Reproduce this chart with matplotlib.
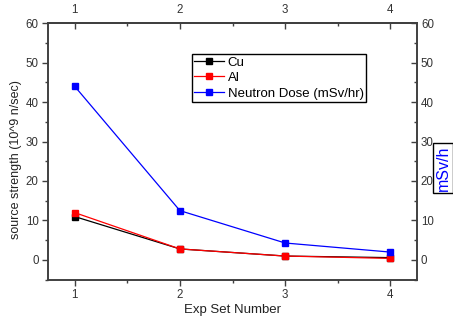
import matplotlib
matplotlib.use("Agg")
import matplotlib.pyplot as plt
from matplotlib.ticker import MultipleLocator

plt.rcParams['font.family'] = ['Liberation Sans', 'DejaVu Sans']

exp_set = [1, 2, 3, 4]
cu = [11.0, 2.8, 1.0, 0.6]
al = [12.0, 2.8, 1.0, 0.4]
neutron = [44.0, 12.5, 4.3, 2.0]
x_ticks = [1, 2, 3, 4]
y_ticks = [0, 10, 20, 30, 40, 50, 60]

spine_c = '#404040'
tick_c = '#333333'
tls = 8.3

fig = plt.figure(figsize=(4.53, 3.2), dpi=100)
ax = fig.add_axes([0.1066, 0.1258, 0.8134, 0.8023])
ax2 = ax.twinx()

ms = 4.3
lw = 0.9
l1, = ax.plot(exp_set, cu, color='black', marker='s', ms=ms, lw=lw, label='Cu', zorder=3)
l2, = ax.plot(exp_set, al, color='red', marker='s', ms=ms, lw=lw, label='Al', zorder=4)
l3, = ax2.plot(exp_set, neutron, color='blue', marker='s', ms=ms, lw=lw, label='Neutron Dose (mSv/hr)', zorder=3)

ax.set_xlim(0.75, 4.25)
ax.set_ylim(-5, 60)
ax2.set_ylim(-5, 60)

for a in (ax, ax2):
    for s in a.spines.values():
        s.set_color(spine_c)
        s.set_linewidth(1.2)

ax.set_xticks(x_ticks)
ax.xaxis.set_minor_locator(MultipleLocator(0.5))
ax.set_yticks(y_ticks)
ax.yaxis.set_minor_locator(MultipleLocator(5))
ax.tick_params(axis='both', which='major', direction='out', length=4, width=1.0,
               color=spine_c, labelcolor=tick_c, labelsize=tls, pad=3)
ax.tick_params(axis='both', which='minor', direction='out', length=2.5, width=1.0, color=spine_c)
ax.tick_params(axis='x', top=False, which='both')
ax.tick_params(axis='y', right=False, which='both')

ax2.set_yticks(y_ticks)
ax2.yaxis.set_minor_locator(MultipleLocator(5))
ax2.tick_params(axis='y', which='major', direction='in', length=4, width=1.0,
                color=spine_c, labelcolor=tick_c, labelsize=tls, pad=3)
ax2.tick_params(axis='y', which='minor', direction='in', length=2.5, width=1.0, color=spine_c)

sec = ax.secondary_xaxis('top')
sec.set_xticks(x_ticks)
sec.xaxis.set_minor_locator(MultipleLocator(0.5))
sec.tick_params(axis='x', which='major', direction='in', length=4, width=1.0,
                color=spine_c, labelcolor=tick_c, labelsize=tls, pad=5)
sec.tick_params(axis='x', which='minor', direction='in', length=2.5, width=1.0, color=spine_c)
sec.spines['top'].set_color(spine_c)
sec.spines['top'].set_linewidth(1.2)

ax.set_xlabel('Exp Set Number', fontsize=9.5, color='#222222')
ax.xaxis.set_label_coords(0.5, -0.096)
ax.set_ylabel('source strength (10^9 n/sec)', fontsize=9, color='#222222')
ax.yaxis.set_label_coords(-0.071, 0.47)

leg = ax2.legend(handles=[l1, l2, l3], loc='upper left', bbox_to_anchor=(0.39, 0.878),
                 fontsize=9.5, frameon=True, fancybox=False, framealpha=1,
                 edgecolor='black', borderaxespad=0, borderpad=0.15,
                 handlelength=2.3, handletextpad=0.25, labelspacing=0.25, numpoints=1)
leg.get_frame().set_linewidth(1.0)

fig.text(0.978, 0.475, 'mSv/h', rotation=90, ha='center', va='center', color='blue',
         fontsize=11.5, zorder=10,
         bbox=dict(boxstyle='square,pad=0.15', fc='white', ec='black', lw=1.0))

fig.savefig('out.png', dpi=100)
